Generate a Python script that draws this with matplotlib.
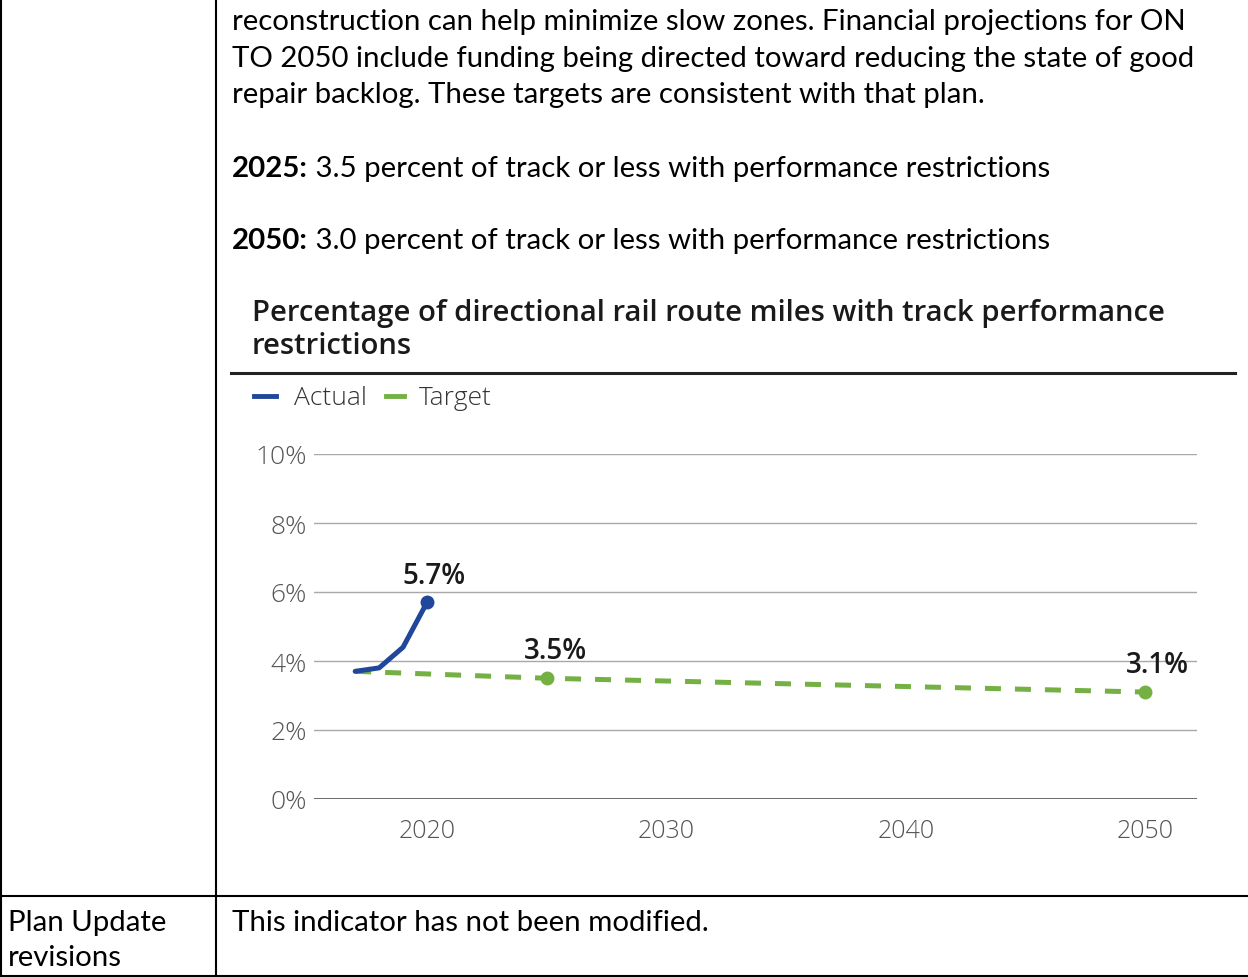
import matplotlib
matplotlib.use("Agg")
import matplotlib.pyplot as plt
from matplotlib.lines import Line2D

# data
actual_years = [2017, 2018, 2019, 2020]
actual_vals = [3.7, 3.8, 4.4, 5.7]
target_years = [2017, 2025, 2050]
target_vals = [3.7, 3.5, 3.1]
marker_target_years = [2025, 2050]
marker_target_vals = [3.5, 3.1]
y_ticks = [0, 2, 4, 6, 8, 10]
x_ticks = [2020, 2030, 2040, 2050]
point_labels = [(2020, 5.7, "5.7%"), (2025, 3.5, "3.5%"), (2050, 3.1, "3.1%")]

body_lines = [
    "reconstruction can help minimize slow zones. Financial projections for ON",
    "TO 2050 include funding being directed toward reducing the state of good",
    "repair backlog. These targets are consistent with that plan.",
]
target_lines = [
    ("2025:", " 3.5 percent of track or less with performance restrictions"),
    ("2050:", " 3.0 percent of track or less with performance restrictions"),
]
chart_title = ["Percentage of directional rail route miles with track performance",
               "restrictions"]

BLUE = "#21479a"
GREEN = "#74b043"
W, H = 1248, 978


def fx(x):
    return x / W


def fy(y):
    return 1 - y / H


fig = plt.figure(figsize=(W / 100, H / 100), dpi=100)
renderer = fig.canvas.get_renderer()


def fit(t, width_px):
    w = t.get_window_extent(renderer).width
    t.set_fontsize(t.get_fontsize() * width_px / w)


# table borders
for x in [1, 216]:
    fig.add_artist(Line2D([fx(x), fx(x)], [fy(0), fy(977)], color="black", lw=1.5))
for y in [897, 977]:
    fig.add_artist(Line2D([fx(0), fx(1248)], [fy(y), fy(y)], color="black", lw=1.5))

# document text
body_font = "Lato"
t = fig.text(fx(232), fy(67), body_lines[1], fontsize=20, family=body_font)
fit(t, 963)
fs = t.get_fontsize()
fig.text(fx(232), fy(30), body_lines[0], fontsize=fs, family=body_font)
fig.text(fx(232), fy(103.5), body_lines[2], fontsize=fs, family=body_font)
for (b, rest), yb in zip(target_lines, [177, 249]):
    bt = fig.text(fx(232), fy(yb), b, fontsize=fs, family=body_font, weight="bold")
    ext = bt.get_window_extent(renderer)
    fig.text(fx(ext.x1), fy(yb), rest, fontsize=fs, family=body_font)
fig.text(fx(8), fy(931), "Plan Update", fontsize=fs, family=body_font)
fig.text(fx(8), fy(966), "revisions", fontsize=fs, family=body_font)
fig.text(fx(232), fy(931), "This indicator has not been modified.", fontsize=fs,
         family=body_font)

# chart title and rule
tt = fig.text(fx(252), fy(314), chart_title[0], fontsize=18, family="Open Sans",
              weight="semibold", color="#1a1a1a", va="center")
fit(tt, 916)
fig.text(fx(252), fy(347), chart_title[1], fontsize=tt.get_fontsize(),
         family="Open Sans", weight="semibold", color="#1a1a1a", va="center")
fig.add_artist(Line2D([fx(231), fx(1235)], [fy(374), fy(374)], color="#222222", lw=2.2))

# legend
fig.add_artist(Line2D([fx(254), fx(276)], [fy(397), fy(397)], color=BLUE, lw=3.5))
fig.text(fx(294), fy(399), "Actual", fontsize=19, family="Open Sans", weight="light",
         color="#333333", va="center")
fig.add_artist(Line2D([fx(386), fx(404)], [fy(397), fy(397)], color=GREEN, lw=3.5))
fig.text(fx(419), fy(399), "Target", fontsize=19, family="Open Sans", weight="light",
         color="#333333", va="center")

# chart axes
ax = fig.add_axes([fx(314), fy(800), (1197 - 314) / W, (800 - 455) / H])
px_per_year = 23.94
ax.set_xlim(2020 - (427 - 314) / px_per_year, 2020 + (1197 - 427) / px_per_year)
ax.set_ylim(0, 10)
for s in ax.spines.values():
    s.set_visible(False)
ax.set_yticks(y_ticks)
ax.set_yticklabels([f"{v}%" for v in y_ticks])
ax.set_xticks(x_ticks)
ax.set_xticklabels([str(v) for v in x_ticks])
ax.yaxis.grid(True, color="#a8a8a8", lw=1.0)
ax.axhline(0, color="#444444", lw=1.8)
ax.tick_params(length=0, labelcolor="#555555")
ax.tick_params(axis="y", pad=5, labelsize=19)
ax.tick_params(axis="x", pad=14, labelsize=18)
for lab in ax.get_xticklabels() + ax.get_yticklabels():
    lab.set_family("Open Sans")
    lab.set_weight("light")

ax.plot(target_years, target_vals, color=GREEN, lw=3.6, dashes=(3.2, 2.8),
        solid_capstyle="butt", clip_on=False, zorder=3)
ax.plot(marker_target_years, marker_target_vals, "o", color=GREEN, ms=9,
        clip_on=False, zorder=4)
ax.plot(actual_years, actual_vals, color=BLUE, lw=3.6, solid_capstyle="round",
        clip_on=False, zorder=5)
ax.plot(actual_years[-1:], actual_vals[-1:], "o", color=BLUE, ms=9, clip_on=False,
        zorder=6)

offsets = [(5, 19), (6, 20), (9, 20)]
for (xv, yv, lab), off in zip(point_labels, offsets):
    ax.annotate(lab, (xv, yv), xytext=off, textcoords="offset points", ha="center",
                va="center", fontsize=20, weight="semibold", family="Open Sans",
                color="#1a1a1a")

fig.savefig("out.png", dpi=100)
